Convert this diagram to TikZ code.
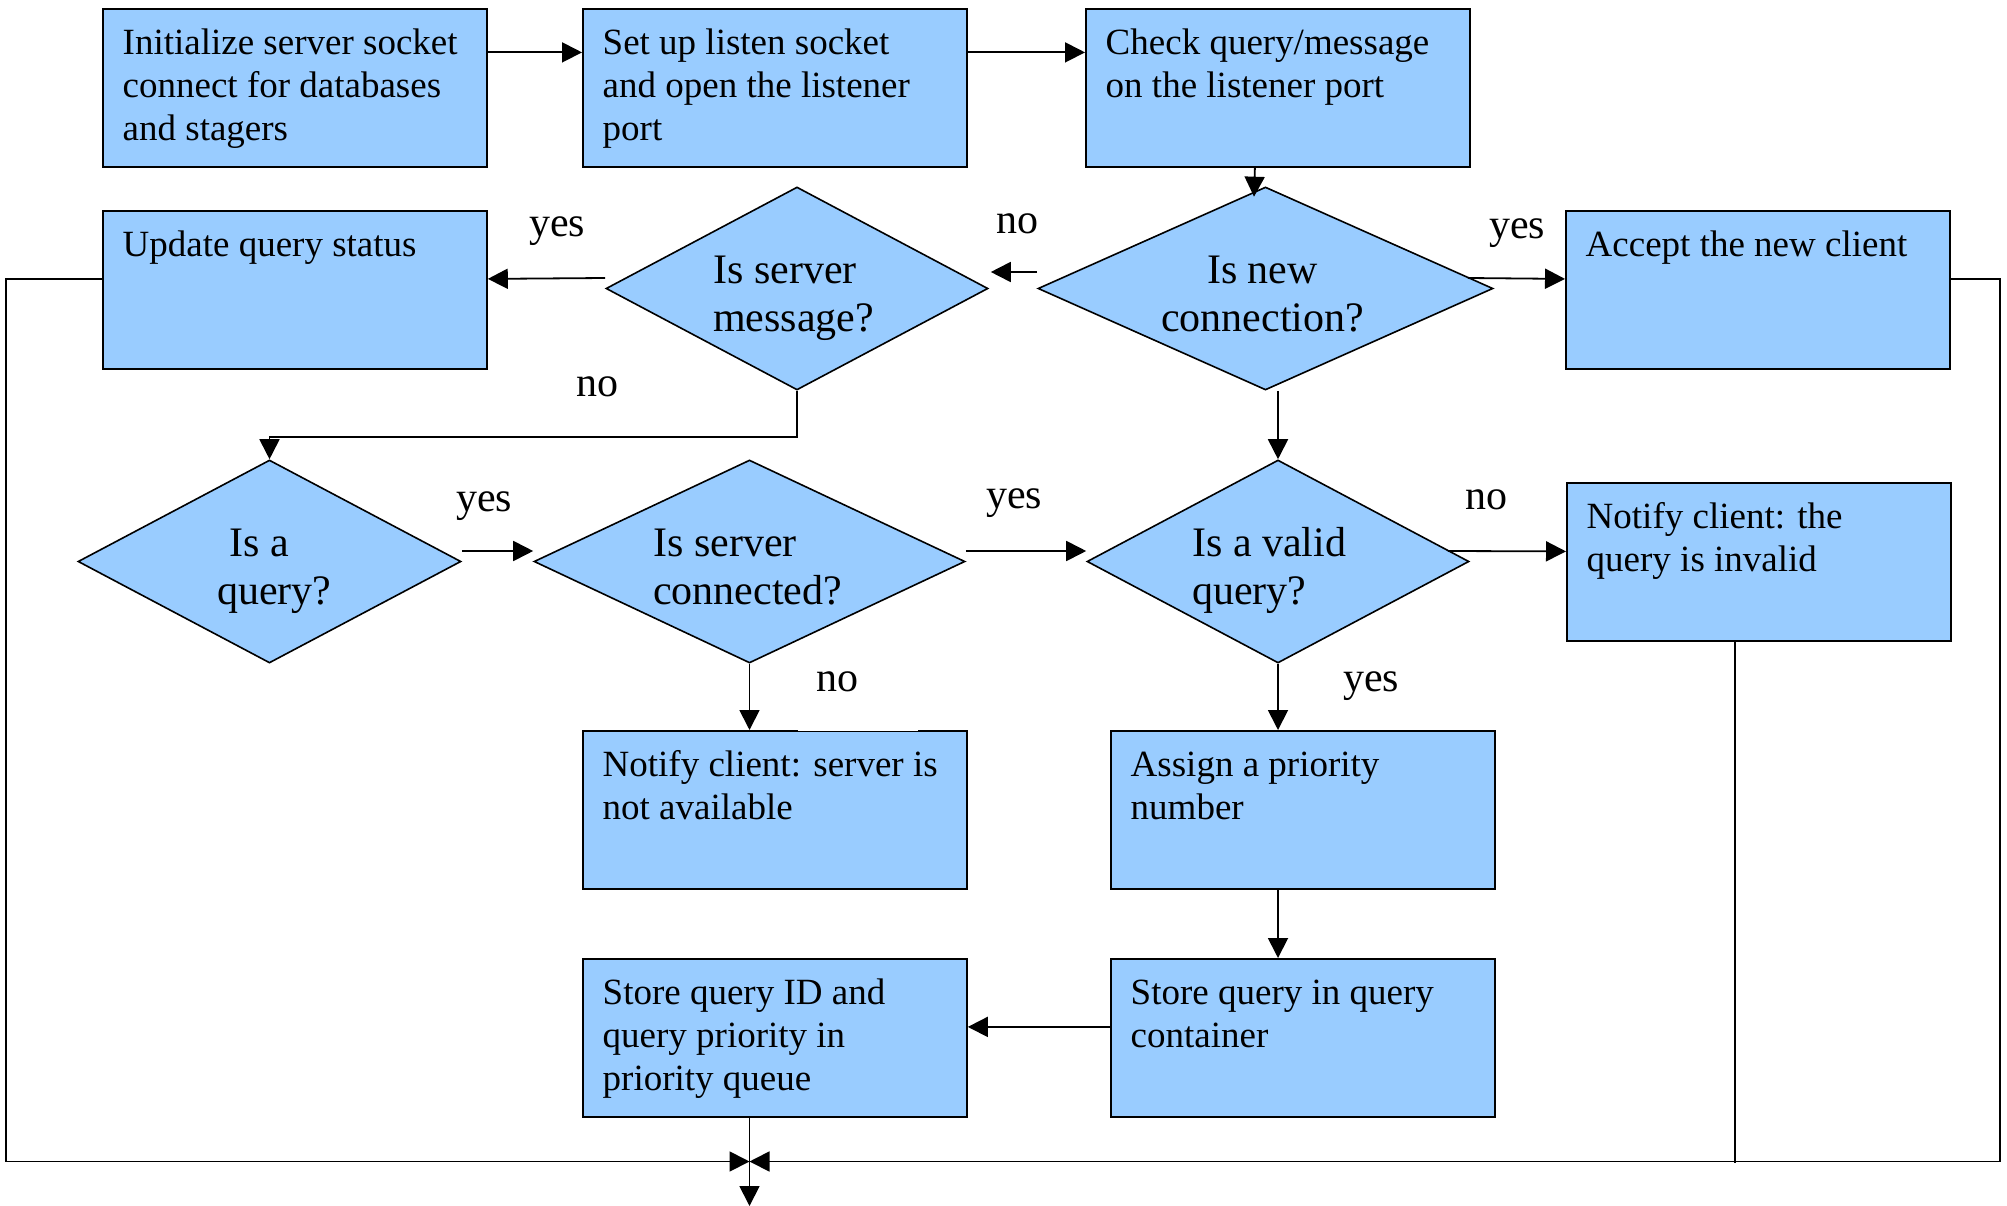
\documentclass[tikz,border=0pt]{standalone}
\usepackage{fontspec}
\setmainfont{Liberation Serif}
\usetikzlibrary{shapes.geometric,arrows.meta,calc}
\definecolor{boxblue}{HTML}{99CCFF}
\begin{document}
\begin{tikzpicture}[x=1pt,y=-1pt,
  box/.style={draw=black, line width=1.8pt, fill=boxblue, rectangle, inner sep=0pt,
              minimum width=384pt, minimum height=158pt, anchor=north west},
  dia/.style={draw=black, line width=1.6pt, fill=boxblue, diamond, inner sep=0pt},
  btxt/.style={font=\fontsize{37}{43}\selectfont, align=left, inner sep=0pt, anchor=north west},
  dtxt/.style={font=\fontsize{42}{48}\selectfont, align=left, inner sep=0pt, anchor=north west},
  lbl/.style={font=\fontsize{42}{48}\selectfont, inner sep=0pt, anchor=base},
  conn/.style={line width=1.8pt},
  arr/.style={conn, -{Triangle[length=20pt,width=20pt]}}]
\useasboundingbox (0,0) rectangle (2007,1206);

% boxes
\node[box] (b1) at (102,8) {};
\node[box] (b2) at (582,8) {};
\node[box] (b3) at (1085,8) {};
\node[box] (upd) at (102,210) {};
\node[box] (acc) at (1565,210) {};
\node[box] (inv) at (1566,482) {};
\node[box] (nsv) at (582,730) {};
\node[box] (asg) at (1110,730) {};
\node[box] (sid) at (582,958) {};
\node[box] (sqc) at (1110,958) {};

\node[btxt] (b1t) at ($(b1.north west)+(20.5,16)$) {\strut Initialize server socket\\connect for databases\\and stagers};
\node[btxt] (b2t) at ($(b2.north west)+(20.5,16)$) {\strut Set up listen socket\\and open the listener\\port};
\node[btxt] (b3t) at ($(b3.north west)+(20.5,16)$) {\strut Check query/message\\on the listener port};
\node[btxt] (updt) at ($(upd.north west)+(20.5,16)$) {\strut Update query status};
\node[btxt] (acct) at ($(acc.north west)+(20.5,16)$) {\strut Accept the new client};
\node[btxt] (invt) at ($(inv.north west)+(20.5,16)$) {\strut Notify client: the\\query is invalid};
\node[btxt] (nsvt) at ($(nsv.north west)+(20.5,16)$) {\strut Notify client: server is\\not available};
\node[btxt] (asgt) at ($(asg.north west)+(20.5,16)$) {\strut Assign a priority\\number};
\node[btxt] (sidt) at ($(sid.north west)+(20.5,16)$) {\strut Store query ID and\\query priority in\\priority queue};
\node[btxt] (sqct) at ($(sqc.north west)+(20.5,16)$) {\strut Store query in query\\container};

% diamonds
\node[dia, minimum width=382pt, minimum height=203pt] (dsm) at (797,288.5) {};
\node[dia, minimum width=455pt, minimum height=203pt] (dnc) at (1265.5,288.5) {};
\node[dia, minimum width=383pt, minimum height=203pt] (dq) at (269.5,561.5) {};
\node[dia, minimum width=431pt, minimum height=203pt] (dsc) at (749.5,561.5) {};
\node[dia, minimum width=382pt, minimum height=203pt] (dvq) at (1278,561.5) {};

\node[dtxt] (dsmt) at ($(dsm.center)+(-84,-38.6)$) {\strut Is server\\message?};
\node[dtxt, align=center, anchor=north] (dnct) at ($(dnc.center)+(-3,-38.6)$) {\strut Is new\\connection?};
\node[dtxt] (dqt) at ($(dq.center)+(-52.5,-38.6)$) {\strut\hspace*{12pt}Is a\\query?};
\node[dtxt] (dsct) at ($(dsc.center)+(-96.5,-38.6)$) {\strut Is server\\connected?};
\node[dtxt] (dvqt) at ($(dvq.center)+(-86,-38.6)$) {\strut Is a valid\\query?};

% join points
\coordinate (join) at (749.5,1161.5);
\coordinate (out) at (749.5,1206);

% connectors
\draw[arr] ($(b1.east)+(0,-35.5)$) -- ($(b2.west)+(0,-35.5)$);
\draw[arr] ($(b2.east)+(0,-35.5)$) -- ($(b3.west)+(0,-35.5)$);
\draw[arr] ($(b3.south)+(-23,0)$) -- ($(dnc.north)+(-11.5,10.5)$);
\draw[arr] ($(dnc.west)+(0,-16.5)$) -- ($(dsm.east)+(2,-16.5)$);
\draw[arr] ($(dsm.west)+(0,-10.5)$) -- ($(upd.east)+(0,-11)$);
\draw[arr] ($(dnc.east)+(-26,-10.5)$) -- ($(acc.west)+(0,-11)$);
\draw[arr] (dsm.south) -- ++(0,46) -| (dq.north);
\draw[arr] (dnc.south -| dvq.north) -- (dvq.north);
\draw[arr] ($(dq.east)+(0,-10.5)$) -- ($(dsc.west)+(0,-10.5)$);
\draw[arr] ($(dsc.east)+(0,-10.5)$) -- ($(dvq.west)+(0,-10.5)$);
\draw[arr] ($(dvq.east)+(-22,-10.5)$) -- ($(inv.west)+(0,-10.5)$);
\draw[arr] (dsc.south) -- (dsc.south |- nsv.north);
\draw[arr] (dvq.south) -- (dvq.south |- asg.north);
\draw[arr] (dvq.south |- asg.south) -- (dvq.south |- sqc.north);
\draw[arr] ($(sqc.west)+(0,-11)$) -- ($(sid.east)+(0,-11)$);
\draw[arr] (dsc.south |- sid.south) -- (out);
\draw[conn] ($(inv.south)+(-24,0)$) -- ++(0,521.5);
\draw[arr] ($(upd.west)+(0,-11)$) -- ++(-96,0) |- (join);
\draw[arr] ($(acc.east)+(0,-11)$) -- ++(49,0) |- (join);

% white strip over the top border of nsv
\fill[white] (798,728.6) rectangle (918,731.2);

% labels
\node[lbl] (l1) at (557,237) {yes};
\node[lbl] (l2) at (1017,234) {no};
\node[lbl] (l3) at (1517,239) {yes};
\node[lbl] (l4) at (597,396) {no};
\node[lbl] (l5) at (484,511) {yes};
\node[lbl] (l6) at (1014,508) {yes};
\node[lbl] (l7) at (1486,509) {no};
\node[lbl] (l8) at (837,691) {no};
\node[lbl] (l9) at (1371,691) {yes};
\end{tikzpicture}
\end{document}
